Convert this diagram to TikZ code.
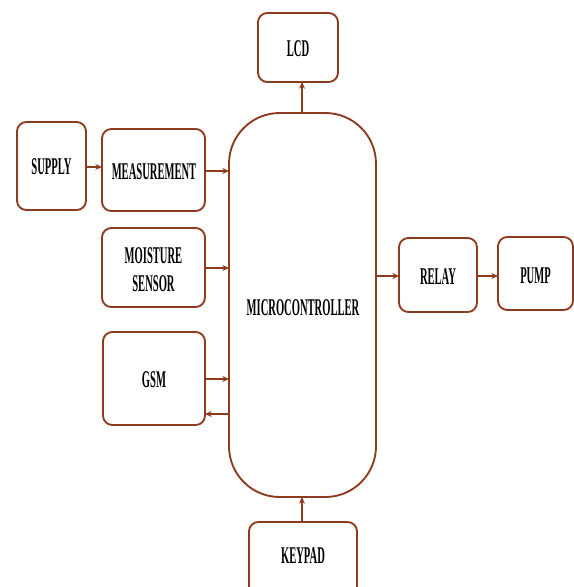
\documentclass[tikz,border=0pt]{standalone}
\usepackage{fontspec}
\setmainfont{Liberation Serif}
\usetikzlibrary{arrows.meta}
\definecolor{brn}{HTML}{8E3A1F}
\newcommand{\lbl}[1]{\scalebox{0.44}[1]{#1}}
\tikzset{
  blk/.style={draw=brn, line width=1.4pt, rounded corners=7pt, fill=white},
  conn/.style={draw=brn, line width=0.8pt, -{Stealth[length=5pt,width=4.5pt]}},
  txt/.style={font=\fontsize{18pt}{21pt}\selectfont\bfseries, align=center, inner sep=0pt},
}
\begin{document}
\begin{tikzpicture}[x=0.75pt,y=-0.75pt]
\useasboundingbox (0,0) rectangle (574,587);
\begin{scope}
\clip (0,0) rectangle (574,587);
\draw[blk] (17,122) rectangle (86,210);
\node[txt] (supply) at (51.5,167) {\lbl{SUPPLY}};
\coordinate (supplyR) at (86,167);
\draw[blk] (102,129) rectangle (205,211);
\node[txt] (meas) at (154,172) {\lbl{MEASUREMENT}};
\coordinate (measL) at (102,167);
\coordinate (measR) at (205,171);
\draw[blk] (102,228) rectangle (205,307);
\node[txt] (moist) at (153.5,270) {\lbl{MOISTURE}\\\lbl{SENSOR}};
\coordinate (moistR) at (205,268);
\draw[blk] (103,332) rectangle (205,425);
\node[txt] (gsm) at (154,380) {\lbl{GSM}};
\coordinate (gsmR1) at (205,379);
\coordinate (gsmR2) at (205,414);
\draw[blk] (258,13) rectangle (338,82);
\node[txt] (lcd) at (298,49) {\lbl{LCD}};
\coordinate (lcdB) at (302,82);
\draw[blk, rounded corners=38pt] (229,113) rectangle (376,497);
\node[txt] (mc) at (303,308) {\lbl{MICROCONTROLLER}};
\coordinate (mcT) at (302,113);
\coordinate (mcB) at (302,497);
\coordinate (mcL1) at (229,171);
\coordinate (mcL2) at (229,268);
\coordinate (mcL3) at (229,379);
\coordinate (mcL4) at (229,414);
\coordinate (mcR) at (376,276);
\draw[blk] (399,238) rectangle (477,312);
\node[txt] (relay) at (438,277) {\lbl{RELAY}};
\coordinate (relayL) at (399,276);
\coordinate (relayR) at (477,276);
\draw[blk] (498,237) rectangle (573,310);
\node[txt] (pump) at (535.5,276) {\lbl{PUMP}};
\coordinate (pumpL) at (498,276);
\draw[blk] (249,522) rectangle (357,610);
\node[txt] (keypad) at (303,556) {\lbl{KEYPAD}};
\coordinate (keyT) at (302,522);
\end{scope}
\draw[conn] (supplyR) -- (measL);
\draw[conn] (measR) -- (mcL1);
\draw[conn] (moistR) -- (mcL2);
\draw[conn] (gsmR1) -- (mcL3);
\draw[conn] (mcL4) -- (gsmR2);
\draw[conn] (mcT) -- (lcdB);
\draw[conn] (mcR) -- (relayL);
\draw[conn] (relayR) -- (pumpL);
\draw[conn] (keyT) -- (mcB);
\end{tikzpicture}
\end{document}
